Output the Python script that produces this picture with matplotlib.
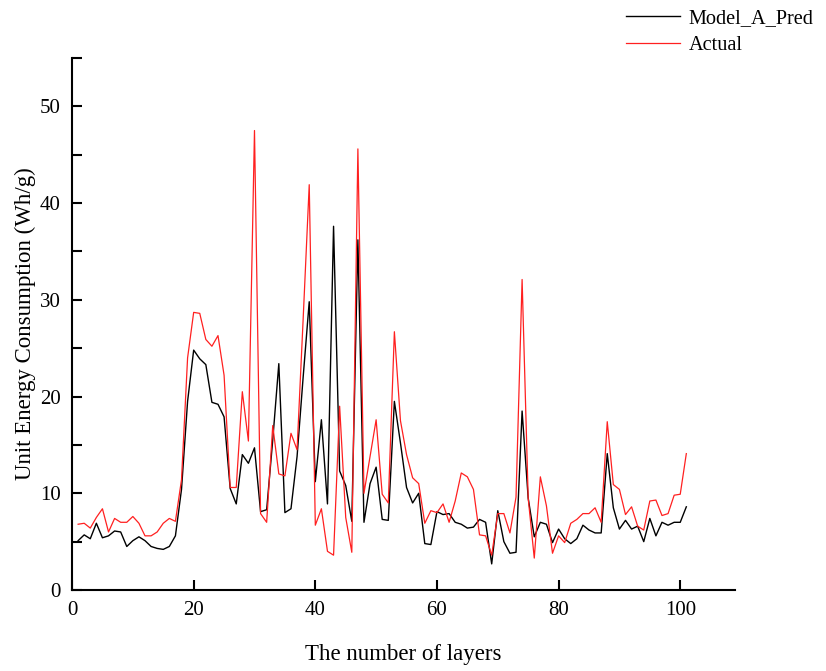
import matplotlib
matplotlib.use("Agg")
import matplotlib.pyplot as plt
from matplotlib.ticker import MultipleLocator

plt.rcParams['font.family'] = ['Liberation Serif', 'DejaVu Serif']

layers = list(range(1, 102))

model_a_pred = [
    5.1, 5.7, 5.3, 6.9, 5.4, 5.6, 6.1, 6.0, 4.5, 5.1,
    5.5, 5.1, 4.5, 4.3, 4.2, 4.5, 5.6, 10.4, 19.5, 24.8,
    23.9, 23.3, 19.4, 19.2, 17.9, 10.5, 8.9, 14.0, 13.1, 14.7,
    8.1, 8.3, 15.5, 23.4, 8.0, 8.4, 13.8, 22.0, 29.8, 11.2,
    17.6, 8.9, 37.6, 12.3, 10.8, 7.1, 36.2, 7.0, 11.0, 12.7,
    7.3, 7.2, 19.5, 15.2, 10.6, 9.0, 10.0, 4.8, 4.7, 8.1,
    7.8, 7.9, 7.0, 6.8, 6.4, 6.5, 7.3, 7.0, 2.7, 8.2,
    5.0, 3.8, 3.9, 18.5, 9.5, 5.5, 7.0, 6.8, 4.9, 6.3,
    5.3, 4.8, 5.3, 6.7, 6.2, 5.9, 5.9, 14.1, 8.5, 6.3,
    7.2, 6.3, 6.6, 5.0, 7.4, 5.6, 7.0, 6.7, 7.0, 7.0,
    8.6,
]

actual = [
    6.8, 6.9, 6.4, 7.5, 8.4, 6.0, 7.4, 7.0, 7.0, 7.6,
    6.9, 5.6, 5.6, 6.0, 6.9, 7.4, 7.1, 11.4, 24.0, 28.7,
    28.6, 25.9, 25.2, 26.3, 22.2, 10.6, 10.6, 20.5, 15.4, 47.5,
    7.9, 7.0, 17.0, 12.0, 11.8, 16.2, 14.5, 28.0, 41.9, 6.7,
    8.4, 4.0, 3.6, 19.0, 7.5, 3.9, 45.6, 10.0, 13.8, 17.6,
    9.9, 9.0, 26.7, 17.5, 14.0, 11.6, 11.0, 6.9, 8.2, 8.0,
    8.9, 7.0, 9.2, 12.1, 11.7, 10.4, 5.7, 5.6, 3.6, 7.9,
    7.9, 5.9, 9.6, 32.1, 9.5, 3.3, 11.7, 8.7, 3.8, 5.6,
    4.9, 6.9, 7.3, 7.9, 7.9, 8.5, 7.0, 17.4, 10.9, 10.4,
    7.8, 8.6, 6.6, 6.2, 9.2, 9.3, 7.7, 7.9, 9.8, 9.9,
    14.1,
]

fig = plt.figure(figsize=(8.26, 6.71), dpi=100)
ax = fig.add_axes([0.0872, 0.1207, 0.8026, 0.7929])

ax.plot(layers, model_a_pred, color='black', lw=1.0, label='Model_A_Pred')
ax.plot(layers, actual, color='#ff2020', lw=0.9, label='Actual')

ax.set_xlim(0, 109)
ax.set_ylim(0, 55)
ax.xaxis.set_major_locator(MultipleLocator(20))
ax.yaxis.set_major_locator(MultipleLocator(10))
ax.yaxis.set_minor_locator(MultipleLocator(5))

for side in ('top', 'right'):
    ax.spines[side].set_visible(False)
for side in ('left', 'bottom'):
    ax.spines[side].set_linewidth(1.5)

ax.tick_params(axis='both', which='both', direction='in', length=7,
               width=1.5, labelsize=15, pad=8)
ax.tick_params(axis='y', which='minor', length=7, width=1.5)

ax.set_xlabel('The number of layers', fontsize=16.5, labelpad=17)
ax.set_ylabel('Unit Energy Consumption (Wh/g)', fontsize=16.5, labelpad=3)

fig.legend(loc='upper left', bbox_to_anchor=(0.7554, 0.9896), frameon=False,
           fontsize=14.6, handlelength=2.65, handletextpad=0.45,
           borderpad=0.1, borderaxespad=0, labelspacing=0.38)

fig.savefig('out.png', dpi=100)
